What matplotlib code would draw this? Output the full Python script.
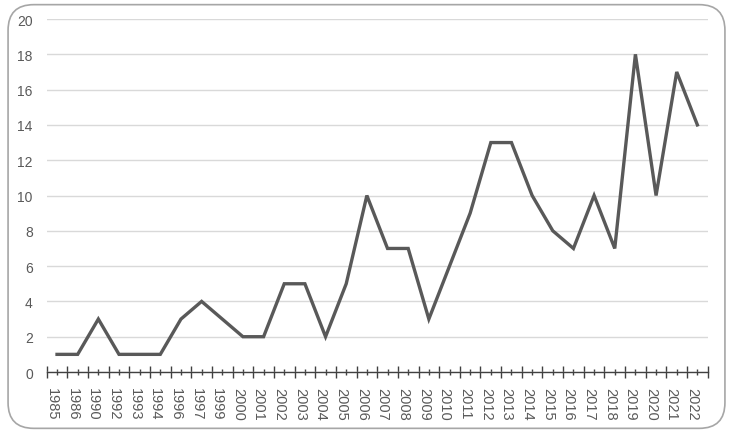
import matplotlib
matplotlib.use("Agg")
import matplotlib.pyplot as plt
from matplotlib.patches import FancyBboxPatch
from matplotlib.transforms import ScaledTranslation
from matplotlib import font_manager
import numpy as np

years = ["1985", "1986", "1990", "1992", "1993", "1994", "1996", "1997", "1999",
         "2000", "2001", "2002", "2003", "2004", "2005", "2006", "2007", "2008",
         "2009", "2010", "2011", "2012", "2013", "2014", "2015", "2016", "2017",
         "2018", "2019", "2020", "2021", "2022"]
counts = [1, 1, 3, 1, 1, 1, 3, 4, 3, 2, 2, 5, 5, 2, 5, 10, 7, 7, 3, 6, 9, 13, 13,
          10, 8, 7, 10, 7, 18, 10, 17, 14]
y_ticks = [0, 2, 4, 6, 8, 10, 12, 14, 16, 18, 20]

plt.rcParams['font.family'] = ['Liberation Sans', 'DejaVu Sans']

installed = {f.name for f in font_manager.fontManager.ttflist}
if 'Liberation Sans Narrow' in installed:
    xfam, xsize = ['Liberation Sans Narrow', 'DejaVu Sans'], 11
else:
    xfam, xsize = ['Liberation Sans', 'DejaVu Sans'], 10.5

fig = plt.figure(figsize=(7.33, 4.35), dpi=100)
ax = fig.add_axes([0.0637, 0.1425, 0.9018, 0.8115])

x = np.arange(len(years))
ax.plot(x, counts, color='#595959', lw=2.4, solid_joinstyle='miter', zorder=3)

ax.set_xlim(-0.5, len(years) - 0.5)
ax.set_ylim(0, 20)
ax.set_yticks(y_ticks)
ax.set_yticklabels([str(v) for v in y_ticks])
ax.yaxis.grid(True, color='#d9d9d9', lw=1)
ax.set_axisbelow(True)

ax.set_xticks(np.arange(-0.5, len(years), 1.0))
ax.set_xticklabels([])
ax.set_xticks(x, minor=True)
ax.set_xticklabels(years, minor=True, rotation=270, family=xfam, fontsize=xsize)
ax.tick_params(axis='x', which='major', direction='inout', length=9, width=1, color='#404040')
ax.tick_params(axis='x', which='minor', direction='inout', length=5, width=1, color='#404040',
               labelcolor='#595959', pad=8)
ax.tick_params(axis='y', length=0, labelsize=10, labelcolor='#595959', pad=10)

shift = ScaledTranslation(-5 / 100, 0, fig.dpi_scale_trans)
for lab in ax.get_xticklabels(minor=True):
    lab.set_transform(lab.get_transform() + shift)

for s in ['top', 'right', 'left']:
    ax.spines[s].set_visible(False)
ax.spines['bottom'].set_color('#404040')
ax.spines['bottom'].set_linewidth(1)

border = FancyBboxPatch((0.011, 0.013), 0.978, 0.974,
                        boxstyle="round,pad=0,rounding_size=0.035",
                        transform=fig.transFigure, fill=False,
                        edgecolor='#a6a6a6', lw=1.2, mutation_aspect=733/435)
fig.patches.append(border)

fig.savefig("out.png", dpi=100)
